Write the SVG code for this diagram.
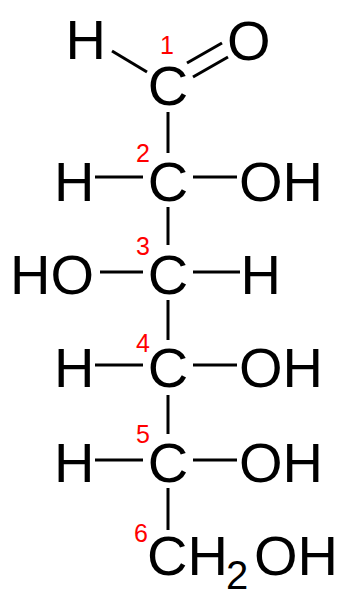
<svg xmlns="http://www.w3.org/2000/svg" width="349" height="599" viewBox="0 0 349 599">
<style>
.a{font-family:"Liberation Sans",Arial,sans-serif;font-size:56px;fill:#000}
.n{font-family:"Liberation Sans",Arial,sans-serif;font-size:25px;fill:#ff0000}
.b{stroke:#000;stroke-width:3;fill:none}
</style>
<rect width="349" height="599" fill="#fff"/>
<g id="connectors">
<line class="b" x1="112" y1="51" x2="147" y2="72"/>
<line class="b" x1="187" y1="63" x2="222" y2="43"/>
<line class="b" x1="193" y1="77" x2="228" y2="57"/>
<line class="b" x1="168" y1="112" x2="168" y2="153"/>
<line class="b" x1="95" y1="177" x2="143" y2="177"/>
<line class="b" x1="193" y1="177" x2="237" y2="177"/>
<line class="b" x1="168" y1="207" x2="168" y2="245"/>
<line class="b" x1="100" y1="272" x2="143" y2="272"/>
<line class="b" x1="193" y1="272" x2="240" y2="272"/>
<line class="b" x1="168" y1="300" x2="168" y2="340"/>
<line class="b" x1="95" y1="365" x2="143" y2="365"/>
<line class="b" x1="193" y1="365" x2="237" y2="365"/>
<line class="b" x1="168" y1="395" x2="168" y2="434"/>
<line class="b" x1="95" y1="460" x2="143" y2="460"/>
<line class="b" x1="193" y1="460" x2="237" y2="460"/>
<line class="b" x1="168" y1="488" x2="168" y2="530"/>
</g>
<g id="c1">
<text class="a" x="65.6" y="59">H</text>
<text class="a" x="168" y="105" text-anchor="middle">C</text>
<text class="a" x="227" y="60">O</text>
<text class="n" x="160" y="54">1</text>
</g>
<g id="c2">
<text class="a" x="54" y="201">H</text>
<text class="a" x="168" y="201" text-anchor="middle">C</text>
<text class="a" x="239" y="201">OH</text>
<text class="n" x="136" y="162">2</text>
</g>
<g id="c3">
<text class="a" x="10" y="294">HO</text>
<text class="a" x="168" y="294" text-anchor="middle">C</text>
<text class="a" x="240.5" y="294">H</text>
<text class="n" x="136" y="255">3</text>
</g>
<g id="c4">
<text class="a" x="54" y="387">H</text>
<text class="a" x="168" y="387" text-anchor="middle">C</text>
<text class="a" x="239" y="387">OH</text>
<text class="n" x="136" y="352">4</text>
</g>
<g id="c5">
<text class="a" x="54" y="482">H</text>
<text class="a" x="168" y="482" text-anchor="middle">C</text>
<text class="a" x="239" y="482">OH</text>
<text class="n" x="136" y="443">5</text>
</g>
<g id="c6">
<text class="a" x="147" y="575">CH</text>
<text class="a" x="226" y="589" style="font-size:40px">2</text>
<text class="a" x="254" y="575">OH</text>
<text class="n" x="134" y="542">6</text>
</g>
</svg>
